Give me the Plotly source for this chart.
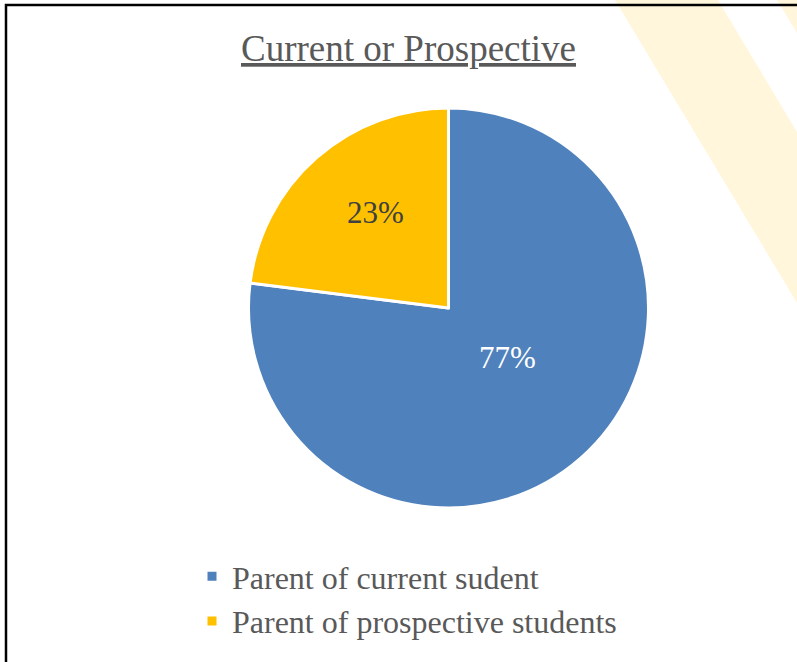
import math
import plotly.graph_objects as go

labels = ["Parent of current sudent", "Parent of prospective students"]
values = [77, 23]
colors = ["#4F81BD", "#FFC000"]
label_colors = ["#FFFFFF", "#404040"]
label_radius_frac = [0.385, 0.6]
label_angle_shift_deg = [-9, 4]
title_text = "Current or Prospective"

W, H = 797, 662

def px(x):
    return x / W

def py(y):
    return 1 - y / H

# pie placement (screen pixels)
PIE_L, PIE_R, PIE_T, PIE_B = 248, 649, 108, 508
cx, cy = (PIE_L + PIE_R) / 2, (PIE_T + PIE_B) / 2
radius = min(PIE_R - PIE_L, PIE_B - PIE_T) / 2

fig = go.Figure()
fig.add_trace(go.Pie(
    labels=labels,
    values=values,
    sort=False,
    direction="clockwise",
    rotation=0,
    marker=dict(colors=colors, line=dict(color="white", width=3)),
    textinfo="none",
    domain=dict(x=[px(PIE_L), px(PIE_R)], y=[py(PIE_B), py(PIE_T)]),
    hoverinfo="skip",
))

# percentage labels, positioned from the data (mid-angle of each slice)
total = sum(values)
annotations = []
cum = 0
for v, col, rf, sh in zip(values, label_colors, label_radius_frac, label_angle_shift_deg):
    mid = (cum + v / 2) / total * 2 * math.pi + math.radians(sh)
    cum += v
    lx = cx + math.sin(mid) * radius * rf
    ly = cy - math.cos(mid) * radius * rf
    annotations.append(dict(
        text=f"{round(v / total * 100)}%", x=px(lx), y=py(ly),
        xref="paper", yref="paper", xanchor="center", yanchor="middle",
        showarrow=False,
        font=dict(family="Liberation Serif", size=31, color=col)))

annotations.append(dict(
    text=f"<u>{title_text}</u>", x=px(408), y=py(48),
    xref="paper", yref="paper", xanchor="center", yanchor="middle",
    showarrow=False,
    font=dict(family="Liberation Serif", size=37, color="#595959")))

stripe1 = f"M {px(615)} {py(0)} L {px(718)} {py(0)} L {px(797)} {py(132)} L {px(797)} {py(303)} Z"
stripe2 = f"M {px(777)} {py(0)} L {px(800)} {py(0)} L {px(800)} {py(38)} Z"

fig.update_layout(
    width=W, height=H,
    margin=dict(l=0, r=0, t=0, b=0),
    paper_bgcolor="white",
    plot_bgcolor="white",
    showlegend=True,
    legend=dict(
        x=px(192), y=py(549), xanchor="left", yanchor="top",
        font=dict(family="Liberation Serif", size=32, color="#595959"),
        bgcolor="rgba(0,0,0,0)",
        traceorder="normal",
    ),
    shapes=[
        dict(type="path", xref="paper", yref="paper", path=stripe1,
             fillcolor="#FFF6DC", line=dict(width=0), layer="below"),
        dict(type="path", xref="paper", yref="paper", path=stripe2,
             fillcolor="#FFF6DC", line=dict(width=0), layer="below"),
        dict(type="rect", xref="paper", yref="paper",
             x0=px(6), y0=py(5), x1=px(820), y1=py(700),
             line=dict(color="black", width=2.5), fillcolor="rgba(0,0,0,0)"),
    ],
    annotations=annotations,
)

fig.write_html("out.html",
               config={"displayModeBar": False},
               post_script="document.body.style.margin='0';document.body.style.overflow='hidden';")
